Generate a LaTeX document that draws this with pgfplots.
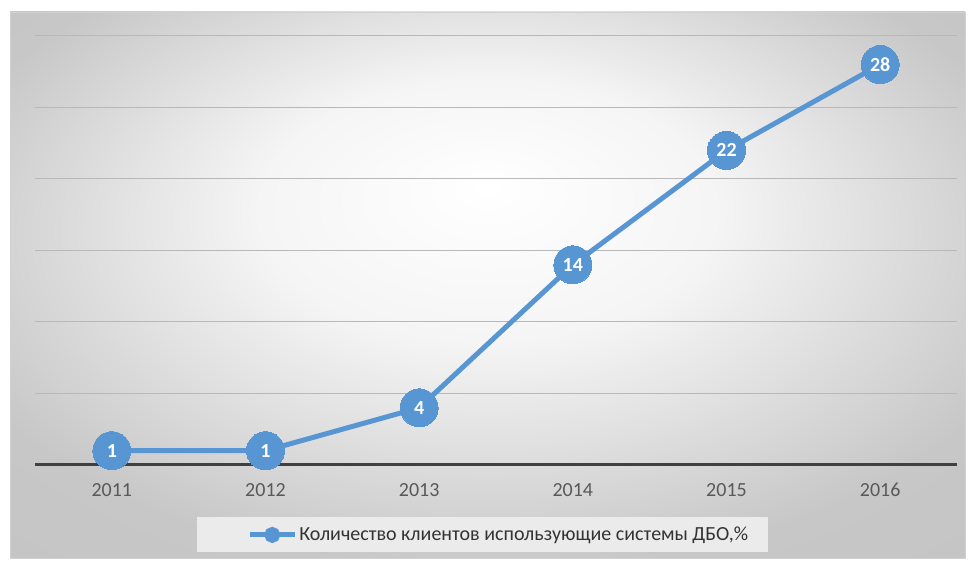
\documentclass[border=0pt]{standalone}
\usepackage{pgfplots}
\pgfplotsset{compat=1.18}
\usepackage{fontspec}
\setmainfont{Carlito}
\definecolor{serblue}{RGB}{88,150,211}
\definecolor{ticktxt}{RGB}{89,89,89}
\pgfdeclareradialshading{bg}{\pgfpoint{0bp}{9bp}}{%
  color(0bp)=(white); color(12bp)=(black!4); color(30bp)=(black!22); color(50bp)=(black!24)}
\begin{document}
\begin{tikzpicture}[x=1pt,y=1pt]
\useasboundingbox (0,0) rectangle (971,561);
\fill[white] (0,0) rectangle (971,561);
\shade[shading=bg] (10,3) rectangle (965,549);
\draw[black!18, line width=0.8pt] (10,3) rectangle (965,549);
\begin{axis}[
    at={(35pt,96pt)}, anchor=south west,
    scale only axis,
    width=922pt, height=429pt,
    xmin=-0.5, xmax=5.5,
    ymin=0, ymax=30,
    clip=false,
    axis line style={draw=none},
    major tick length=0pt,
    xtick={0,1,2,3,4,5},
    xticklabels={2011,2012,2013,2014,2015,2016},
    ytick={5,10,15,20,25,30},
    yticklabels={},
    ymajorgrids,
    grid style={black!28, line width=1pt},
    extra y ticks={0},
    extra y tick labels={},
    extra y tick style={grid style={black!75, line width=3pt}},
    /pgf/number format/assume math mode=true,
    x tick label style={font=\fontsize{20}{24}\selectfont, text=ticktxt,
        anchor=base, text depth=0pt, yshift=-32pt},
    legend style={at={(0.4853,-0.163)}, anchor=center,
        draw=none, fill=black!8,
        font=\fontsize{20}{24}\selectfont, text=black!80,
        inner xsep=18pt, inner ysep=8pt},
    legend cell align=left,
    legend image code/.code={
        \path[draw=none, fill=none] (0pt,0pt) rectangle (1pt,0pt);
        \draw[serblue, line width=5pt] (35pt,0pt) -- (80pt,0pt);
        \fill[serblue] (57.5pt,0pt) circle (5.5pt);
    },
    nodes near coords,
    every node near coord/.append style={anchor=center, text=white,
        font=\fontsize{20}{24}\selectfont\bfseries},
]
\addplot[serblue, line width=5pt, mark=*, mark size=19pt,
    mark options={fill=serblue, draw=serblue, line width=0pt}]
  coordinates {(0,1) (1,1) (2,4) (3,14) (4,22) (5,28)};
\addlegendentry{Количество клиентов использующие системы ДБО,\%\hspace{17pt}}
\end{axis}
\end{tikzpicture}
\end{document}
